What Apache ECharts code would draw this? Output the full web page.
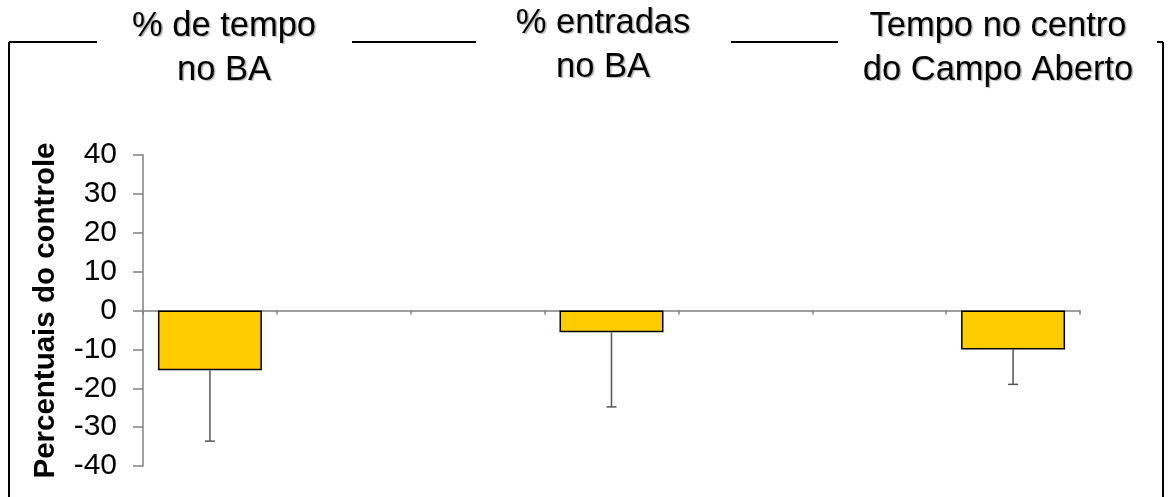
<!DOCTYPE html>
<html>
<head>
<meta charset="utf-8">
<script src="https://cdn.jsdelivr.net/npm/echarts@6/dist/echarts.min.js"></script>
<style>
  html, body { margin: 0; padding: 0; background: #fff; }
  #chart { width: 1175px; height: 497px; }
</style>
</head>
<body>
<div id="chart"></div>
<script>
// Seven slots along the x axis; the three measures sit in slots 0, 3 and 6.
const categories = ['a', 'b', 'c', 'd', 'e', 'f', 'g'];
const meanValues = [-15.4, null, null, -5.6, null, null, -10.0];
const errorLow   = [-33.6, null, null, -24.8, null, null, -19.0];
const panelTitles = ['% de tempo\nno BA', '% entradas\nno BA', 'Tempo no centro\ndo Campo Aberto'];
const yTicks = { min: -40, max: 40, step: 10 };
const yAxisName = 'Percentuais do controle';

const FONT = '"Liberation Sans", Arial, sans-serif';
const chart = echarts.init(document.getElementById('chart'), null, { renderer: 'canvas' });

const errorData = categories.map((c, i) => [i, meanValues[i], errorLow[i]])
  .filter(d => d[1] !== null);

// Titles above each bar, with the frame line broken around them
const titleX = [224, 603, 998];
const titleY = [4, 1, 4];
const titleGraphics = panelTitles.map((t, i) => ({
  type: 'text',
  x: titleX[i],
  y: titleY[i],
  style: {
    text: t,
    fill: '#000',
    fontFamily: FONT,
    fontSize: 34.5,
    lineHeight: 44,
    align: 'center',
    verticalAlign: 'top',
    textShadowColor: 'rgba(0,0,0,0.3)',
    textShadowOffsetX: 1.5,
    textShadowOffsetY: 1.5,
    textShadowBlur: 1
  }
}));

const frameStyle = { stroke: '#000', lineWidth: 2 };
const frameSegments = [
  [9, 42, 9, 497],
  [9, 42, 97, 42],
  [352, 42, 476, 42],
  [731, 42, 838, 42],
  [1157, 42, 1163, 42],
  [1163, 42, 1163, 497]
].map(s => ({
  type: 'line',
  shape: { x1: s[0], y1: s[1], x2: s[2], y2: s[3] },
  style: frameStyle,
  silent: true
}));

chart.setOption({
  animation: false,
  backgroundColor: '#fff',
  grid: { left: 143, right: 95, top: 155, bottom: 31, containLabel: false },
  xAxis: {
    type: 'category',
    data: categories,
    axisLine: { onZero: true, lineStyle: { color: '#808080', width: 1.5 } },
    axisTick: { show: true, length: 4, lineStyle: { color: '#808080', width: 1.5 } },
    axisLabel: { show: false },
    splitLine: { show: false }
  },
  yAxis: {
    type: 'value',
    min: yTicks.min,
    max: yTicks.max,
    interval: yTicks.step,
    name: yAxisName,
    nameLocation: 'middle',
    nameGap: 82,
    nameRotate: 90,
    nameTextStyle: { color: '#000', fontFamily: FONT, fontSize: 29.5, fontWeight: 'bold' },
    axisLine: { show: true, lineStyle: { color: '#808080', width: 1.5 } },
    axisTick: { show: true, length: 10, lineStyle: { color: '#808080', width: 1.5 } },
    axisLabel: { color: '#000', fontFamily: FONT, fontSize: 30, margin: 26 },
    splitLine: { show: false }
  },
  graphic: frameSegments.concat(titleGraphics),
  series: [
    {
      type: 'bar',
      data: meanValues,
      barWidth: 104,
      itemStyle: { color: '#FFCC00', borderColor: '#000', borderWidth: 1.5 },
      z: 2
    },
    {
      type: 'custom',
      data: errorData,
      z: 3,
      renderItem: function (params, api) {
        const x = api.value(0);
        const top = api.coord([x, api.value(1)]);
        const bottom = api.coord([x, api.value(2)]);
        const cap = 5;
        return {
          type: 'group',
          children: [
            {
              type: 'line',
              shape: { x1: top[0], y1: top[1], x2: bottom[0], y2: bottom[1] },
              style: { stroke: '#555', lineWidth: 1.5 }
            },
            {
              type: 'line',
              shape: { x1: bottom[0] - cap, y1: bottom[1], x2: bottom[0] + cap, y2: bottom[1] },
              style: { stroke: '#555', lineWidth: 1.5 }
            }
          ]
        };
      }
    }
  ]
});
</script>
</body>
</html>
